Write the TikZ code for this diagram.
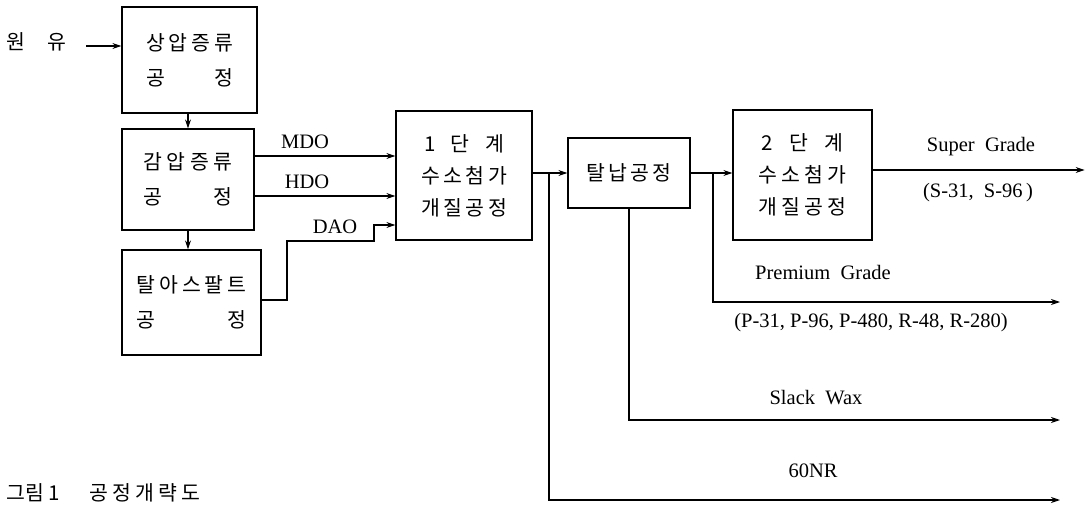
\documentclass[tikz,border=0pt]{standalone}
\usepackage{fontspec}
\setmainfont{Liberation Serif}
\newfontfamily\kr{Noto Sans CJK KR}
\usetikzlibrary{arrows.meta}
\newcommand{\spr}[2]{\makebox[#1pt][s]{#2}}
\begin{document}
\begin{tikzpicture}[x=1pt,y=-1pt,
  box/.style={draw, line width=1.3pt, inner sep=0pt, align=center, font=\kr\fontsize{20.5}{35}\selectfont},
  box3/.style={box, font=\kr\fontsize{20.5}{32}\selectfont},
  lbl/.style={font=\fontsize{20.5}{24}\selectfont, inner sep=0pt},
  klbl/.style={font=\kr\fontsize{20.5}{24}\selectfont, inner sep=0pt},
  arr/.style={line width=1.1pt, -{Stealth[length=9pt,width=6pt]}}]
\useasboundingbox (0,0) rectangle (1085,506);
\fill[white] (0,0) rectangle (1085,506);

% boxes
\node[box, minimum width=135pt, minimum height=106pt] (A) at (189.5,60)
  {\spr{87}{상\hfil 압\hfil 증\hfil 류}\\\spr{87}{공\hfil 정}};
\node[box, minimum width=132pt, minimum height=101pt] (B) at (188,179.5)
  {\spr{89}{감\hfil 압\hfil 증\hfil 류}\\\spr{89}{공\hfil 정}};
\node[box, minimum width=139pt, minimum height=105pt] (C) at (191.5,302.5)
  {\spr{110}{탈\hfil 아\hfil 스\hfil 팔\hfil 트}\\\spr{110}{공\hfil 정}};
\node[box3, minimum width=136pt, minimum height=129pt] (D) at (464,175.5)
  {\spr{80}{1\hfil 단\hfil 계}\\\spr{86}{수\hfil 소\hfil 첨\hfil 가}\\\spr{86}{개\hfil 질\hfil 공\hfil 정}};
\node[box, minimum width=122pt, minimum height=70pt] (E) at (629,173)
  {\spr{85}{탈\hfil 납\hfil 공\hfil 정}};
\node[box3, minimum width=139pt, minimum height=130pt] (F) at (802.5,175)
  {\spr{82}{2\hfil 단\hfil 계}\\\spr{88}{수\hfil 소\hfil 첨\hfil 가}\\\spr{88}{개\hfil 질\hfil 공\hfil 정}};

% labels
\node[klbl] (crude) at (36.5,42) {원\hspace{22pt}유};
\node[lbl] (mdo) at (305,142) {MDO};
\node[lbl] (hdo) at (307,182) {HDO};
\node[lbl] (dao) at (335,227) {DAO};
\node[lbl] (sg) at (981,147) {Super\ \ Grade};
\node[lbl] (sgp) at (978,193) {(S-31,\ \ S-96\,)};
\node[lbl, anchor=west] (pg) at (755,272) {Premium\ \ Grade};
\node[lbl] (pgp) at (871,323) {(P-31, P-96, P-480, R-48, R-280)};
\node[lbl] (sw) at (816,398) {Slack\ \ Wax};
\node[lbl] (nr) at (813,471) {60NR};
\node[klbl, anchor=west] (cap) at (6,493) {그림 1\hspace{30pt}\spr{110}{공\hfil 정\hfil 개\hfil 략\hfil 도}};

% connectors
\coordinate (in) at (86,46);
\draw[arr] (in) -- (in -| A.west);
\draw[arr] (A.south -| B.north) -- (B.north);
\draw[arr] (B.south) -- (B.south |- C.north);
\draw[arr] ([yshift=23.5pt]B.east) coordinate (m1) -- (m1 -| D.west);
\draw[arr] ([yshift=-16.5pt]B.east) coordinate (h1) -- (h1 -| D.west);
\draw[arr] ([yshift=2.5pt]C.east) -| (287,241) -- (374,241) |- ([yshift=-49.5pt]D.west);
\draw[arr] (D.east |- E.west) -- (E.west);
\coordinate (j1) at (549,173);
\draw[arr] (j1) |- (1060,500);
\draw[arr] (E.east) -- (E.east -| F.west);
\coordinate (j2) at (713,173);
\draw[arr] (j2) |- (1060,302);
\draw[arr] (E.south) |- (1060,420);
\draw[arr] ([yshift=5pt]F.east) -- ++(212,0);
\end{tikzpicture}
\end{document}
